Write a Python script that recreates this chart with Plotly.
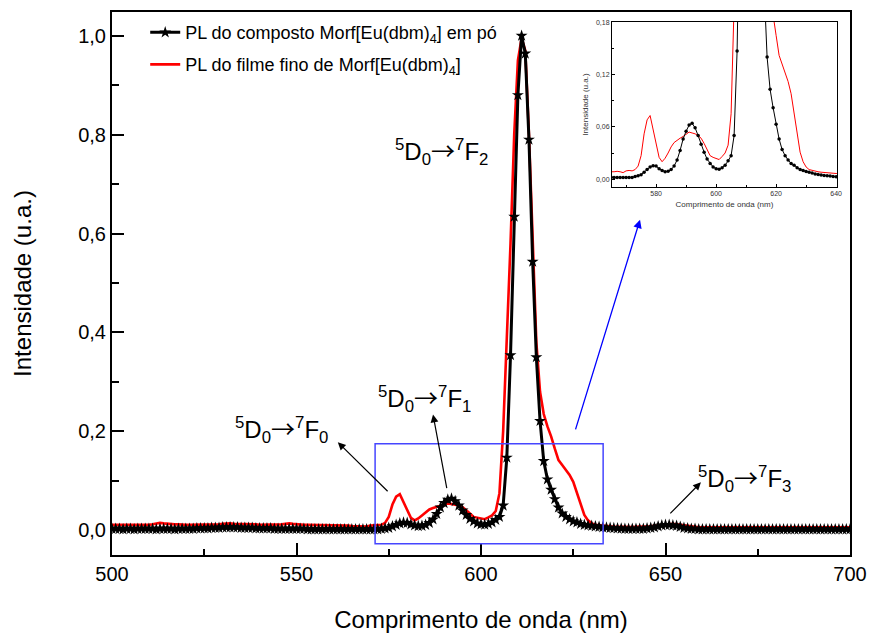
import plotly.graph_objects as go

# ---------------- data ----------------
wavelength = list(range(500, 701))

pl_po = [
    0.003, 0.003, 0.003, 0.002, 0.003, 0.003, 0.002, 0.003, 0.003, 0.003,
    0.003, 0.003, 0.002, 0.003, 0.003, 0.003, 0.003, 0.002, 0.003, 0.003,
    0.003, 0.003, 0.003, 0.004, 0.004, 0.004, 0.004, 0.005, 0.005, 0.005,
    0.006, 0.006, 0.006, 0.006, 0.006, 0.005, 0.005, 0.005, 0.005, 0.004,
    0.004, 0.004, 0.004, 0.004, 0.003, 0.003, 0.003, 0.003, 0.003, 0.003,
    0.003, 0.003, 0.003, 0.002, 0.002, 0.002, 0.002, 0.002, 0.002, 0.002,
    0.002, 0.002, 0.002, 0.002, 0.002, 0.002, 0.002, 0.002, 0.002, 0.002,
    0.002, 0.002, 0.002, 0.003, 0.004, 0.005, 0.008, 0.011, 0.014, 0.0155,
    0.015, 0.012, 0.010, 0.0085, 0.009, 0.011, 0.015, 0.022, 0.033, 0.046,
    0.055, 0.062, 0.064, 0.059, 0.050, 0.040, 0.031, 0.023, 0.018, 0.014,
    0.012, 0.0115, 0.013, 0.016, 0.021, 0.027, 0.050, 0.147, 0.354, 0.634,
    0.880, 1.000, 0.964, 0.790, 0.543, 0.350, 0.221, 0.140, 0.103, 0.082,
    0.063, 0.046, 0.034, 0.027, 0.022, 0.018, 0.016, 0.013, 0.011, 0.0098,
    0.0088, 0.008, 0.007, 0.006, 0.0053, 0.0048, 0.0043, 0.004, 0.0035, 0.003,
    0.0028, 0.003, 0.003, 0.003, 0.003, 0.004, 0.005, 0.006, 0.008, 0.010,
    0.011, 0.011, 0.010, 0.009, 0.007, 0.005, 0.004, 0.003, 0.003, 0.002,
    0.002, 0.002, 0.002, 0.002, 0.002, 0.002, 0.002, 0.002, 0.002, 0.002,
    0.002, 0.002, 0.002, 0.002, 0.002, 0.002, 0.002, 0.002, 0.002, 0.002,
    0.002, 0.002, 0.002, 0.002, 0.002, 0.002, 0.002, 0.002, 0.002, 0.002,
    0.002, 0.002, 0.002, 0.002, 0.002, 0.002, 0.002, 0.002, 0.002, 0.002,
    0.002,
]

pl_filme = [
    0.011, 0.011, 0.011, 0.011, 0.010, 0.011, 0.011, 0.011, 0.011, 0.011,
    0.011, 0.012, 0.013, 0.015, 0.014, 0.013, 0.012, 0.012, 0.012, 0.011,
    0.011, 0.011, 0.011, 0.011, 0.011, 0.011, 0.011, 0.012, 0.012, 0.012,
    0.013, 0.014, 0.014, 0.013, 0.013, 0.012, 0.012, 0.012, 0.012, 0.012,
    0.011, 0.011, 0.011, 0.011, 0.011, 0.011, 0.012, 0.013, 0.014, 0.013,
    0.012, 0.012, 0.011, 0.011, 0.011, 0.011, 0.011, 0.011, 0.011, 0.011,
    0.011, 0.011, 0.010, 0.010, 0.0095, 0.0085, 0.0085, 0.009, 0.0085, 0.0075,
    0.0095, 0.010, 0.0095, 0.011, 0.015, 0.027, 0.052, 0.068, 0.073, 0.057,
    0.038, 0.025, 0.020, 0.024, 0.030, 0.037, 0.042, 0.045, 0.047, 0.049,
    0.052, 0.054, 0.053, 0.052, 0.050, 0.047, 0.041, 0.034, 0.027, 0.025,
    0.024, 0.0225, 0.026, 0.030, 0.039, 0.075, 0.200, 0.380, 0.580, 0.800,
    0.950, 0.995, 0.970, 0.800, 0.580, 0.380, 0.280, 0.235, 0.210, 0.190,
    0.165, 0.142, 0.132, 0.122, 0.112, 0.098, 0.077, 0.053, 0.031, 0.020,
    0.014, 0.011, 0.010, 0.009, 0.0085, 0.008, 0.0075, 0.007, 0.007, 0.0068,
    0.0065, 0.0065, 0.007, 0.007, 0.007, 0.007, 0.008, 0.009, 0.010, 0.011,
    0.012, 0.013, 0.013, 0.012, 0.011, 0.009, 0.008, 0.007, 0.007, 0.006,
    0.006, 0.006, 0.006, 0.006, 0.006, 0.006, 0.006, 0.006, 0.006, 0.006,
    0.006, 0.006, 0.006, 0.006, 0.006, 0.006, 0.006, 0.006, 0.006, 0.006,
    0.006, 0.006, 0.006, 0.006, 0.006, 0.006, 0.006, 0.006, 0.006, 0.006,
    0.006, 0.006, 0.006, 0.006, 0.006, 0.006, 0.006, 0.006, 0.006, 0.006,
    0.006,
]

series_names = [
    "PL do composto Morf[Eu(dbm)<sub>4</sub>] em pó",
    "PL do filme fino de Morf[Eu(dbm)<sub>4</sub>]",
]

main_yticks = [0.0, 0.2, 0.4, 0.6, 0.8, 1.0]
inset_yticks = [0.0, 0.06, 0.12, 0.18]
inset_xticks = [580, 600, 620, 640]

ARROW = "<span style='font-family:Noto Sans CJK SC;font-size:24px'>→</span>"
transitions = [
    # final level, text x, text y, arrow tip x, tip y, tail x, tail y
    ("2", 589.2, 0.768, None, None, None, None),
    ("1", 584.8, 0.268, 587.0, 0.234, 590.8, 0.082),
    ("0", 545.8, 0.205, 561.2, 0.178, 575.1, 0.076),
    ("3", 671.5, 0.106, 659.6, 0.097, 650.9, 0.031),
]

zoom_box = dict(x0=571.3, x1=633.1, y0=-0.027, y1=0.175)
zoom_arrow = dict(tip_x=643.1, tip_y=0.628, tail_x=625.5, tail_y=0.201)

FONT = "Liberation Sans, Arial, sans-serif"

fig = go.Figure()

fig.add_trace(go.Scatter(
    x=wavelength, y=pl_filme, mode="lines", name=series_names[1],
    line=dict(color="#ff0000", width=2.6), legend="legend2",
))
fig.add_trace(go.Scatter(
    x=wavelength, y=pl_po, mode="lines+markers", name=series_names[0],
    line=dict(color="black", width=3),
    marker=dict(symbol="star", size=9, color="black"),
    legend="legend",
))
fig.add_trace(go.Scatter(
    x=wavelength, y=pl_filme, mode="lines", showlegend=False,
    line=dict(color="#ff0000", width=1), xaxis="x2", yaxis="y2",
))
fig.add_trace(go.Scatter(
    x=wavelength, y=pl_po, mode="lines+markers", showlegend=False,
    line=dict(color="black", width=1),
    marker=dict(symbol="circle", size=3.5, color="black"),
    xaxis="x2", yaxis="y2",
))

axis_common = dict(
    showline=True, linecolor="black", linewidth=2, mirror=True, automargin=False,
    showgrid=False, zeroline=False, ticks="inside", tickcolor="black",
    tickwidth=2, ticklen=12,
    tickfont=dict(family=FONT, size=20, color="black"),
)

fig.update_layout(
    template="none",
    width=869, height=633,
    margin=dict(l=112, r=19, t=12, b=78, autoexpand=False),
    paper_bgcolor="white", plot_bgcolor="white",
    separators=",.",
    font=dict(family=FONT, color="black"),
    xaxis=dict(
        range=[500, 700], dtick=50, tick0=500,
        minor=dict(dtick=25, ticks="inside", ticklen=6, tickwidth=2, tickcolor="black"),
        title=dict(text="Comprimento de onda (nm)", font=dict(family=FONT, size=24), standoff=28),
        **axis_common,
    ),
    yaxis=dict(
        range=[-0.05, 1.048], tickvals=main_yticks, tickformat=".1f",
        minor=dict(dtick=0.1, tick0=0, ticks="inside", ticklen=7, tickwidth=2, tickcolor="black"),
        title=dict(text="Intensidade (u.a.)", font=dict(family=FONT, size=24), standoff=40),
        **axis_common,
    ),
    xaxis2=dict(
        domain=[0.6775, 0.9824], anchor="y2", range=[565.3, 640.3],
        tickvals=inset_xticks, automargin=False,
        showline=True, linecolor="black", linewidth=1, mirror=True,
        showgrid=False, zeroline=False, ticks="inside", ticklen=3, tickwidth=1,
        tickcolor="black",
        minor=dict(dtick=10, tick0=570, ticks="inside", ticklen=2, tickwidth=1, tickcolor="black"),
        tickfont=dict(family=FONT, size=7, color="#333"),
        title=dict(text="Comprimento de onda (nm)", font=dict(family=FONT, size=8, color="#333"), standoff=4),
    ),
    yaxis2=dict(
        domain=[0.6777, 0.9816], anchor="x2", range=[-0.009, 0.1803],
        tickvals=inset_yticks, tickformat=".2f", automargin=False,
        showline=True, linecolor="black", linewidth=1, mirror=True,
        showgrid=False, zeroline=False, ticks="inside", ticklen=3, tickwidth=1,
        tickcolor="black",
        minor=dict(dtick=0.03, tick0=0, ticks="inside", ticklen=2, tickwidth=1, tickcolor="black"),
        tickfont=dict(family=FONT, size=7, color="#333"),
        title=dict(text="Intensidade (u.a.)", font=dict(family=FONT, size=8, color="#333"), standoff=6),
    ),
    legend=dict(
        x=0.045, y=0.962, xanchor="left", yanchor="middle",
        bgcolor="rgba(0,0,0,0)", font=dict(family=FONT, size=18, color="black"),
    ),
    legend2=dict(
        x=0.045, y=0.903, xanchor="left", yanchor="middle",
        bgcolor="rgba(0,0,0,0)", font=dict(family=FONT, size=18, color="black"),
    ),
)

fig.add_shape(type="rect", xref="x", yref="y", **zoom_box,
              line=dict(color="rgb(70,70,255)", width=1.5), fillcolor="rgba(0,0,0,0)")

fig.add_annotation(
    x=zoom_arrow["tip_x"], y=zoom_arrow["tip_y"], ax=zoom_arrow["tail_x"], ay=zoom_arrow["tail_y"],
    xref="x", yref="y", axref="x", ayref="y", text="", showarrow=True,
    arrowhead=2, arrowsize=1.3, arrowwidth=1.3, arrowcolor="#0000ff",
)

for level, tx, ty, hx, hy, bx, by in transitions:
    label = "<sup>5</sup>D<sub>0</sub>" + ARROW + "<sup>7</sup>F<sub>" + level + "</sub>"
    fig.add_annotation(
        x=tx, y=ty, xref="x", yref="y", text=label, showarrow=False,
        font=dict(family=FONT, size=24, color="black"),
        xanchor="center", yanchor="middle",
    )
    if hx is not None:
        fig.add_annotation(
            x=hx, y=hy, ax=bx, ay=by, xref="x", yref="y", axref="x", ayref="y",
            text="", showarrow=True, arrowhead=2, arrowsize=1.3, arrowwidth=1.2,
            arrowcolor="black",
        )

fig.write_html("out.html")
